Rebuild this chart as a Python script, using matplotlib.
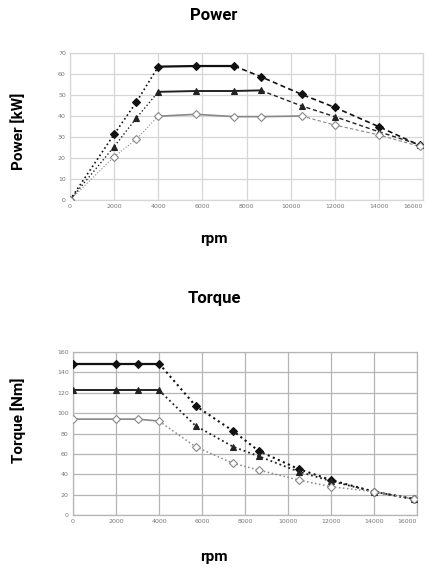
import matplotlib
matplotlib.use("Agg")
import matplotlib.pyplot as plt

# rpm sample points and curves
rpm = [0, 2000, 3000, 4000, 5700, 7450, 8650, 10500, 12000, 14000, 15850]
power_a = [0, 31.3, 46.5, 63.5, 63.8, 63.8, 58.7, 50.3, 44.1, 34.9, 26.0]
power_b = [0, 25.4, 38.9, 51.5, 51.9, 51.9, 52.2, 44.8, 39.7, 32.5, 26.3]
power_c = [0, 20.6, 28.9, 39.9, 40.8, 39.7, 39.7, 40.0, 35.7, 31.0, 25.5]
torque_a = [148.7, 148.7, 148.7, 148.7, 107.2, 82.4, 62.7, 45.1, 34.3, 22.9, 15.7]
torque_b = [122.5, 122.5, 122.5, 122.5, 87.6, 67.0, 57.6, 42.5, 33.3, 22.9, 15.7]
torque_c = [94.1, 94.1, 94.1, 92.2, 67.0, 50.7, 44.1, 34.3, 27.8, 22.9, 15.7]

x_ticks = list(range(0, 16001, 2000))
p_ticks = list(range(0, 71, 10))
t_ticks = list(range(0, 161, 20))

LABEL_FONT = ['Liberation Sans Narrow', 'Roboto', 'DejaVu Sans']
W, H = 429, 571
fig = plt.figure(figsize=(W / 100, H / 100), dpi=100)


def px_axes(l, t, r, b):
    return fig.add_axes([l / W, 1 - b / H, (r - l) / W, (b - t) / H])


def style(ax, yticks, ymax, grid_col):
    ax.set_xlim(0, 16000); ax.set_ylim(0, ymax)
    ax.set_xticks(x_ticks); ax.set_yticks(yticks)
    ax.tick_params(length=0, labelsize=4.5, labelcolor='#777777', pad=3)
    ax.grid(True, color=grid_col, linewidth=0.9, zorder=0)
    for s in ax.spines.values():
        s.set_color(grid_col); s.set_linewidth(0.9)
    # last rpm label sits at the figure edge: keep it inside
    ax.get_xticklabels()[-1].set_horizontalalignment('right')


def draw(ax, y, k_flat, k_end, col, mk, mfc, lw):
    # ramp (dotted), flat section (solid), decline (dashed)
    ax.plot(rpm[:k_flat + 1], y[:k_flat + 1], ls=':', color=col, lw=lw, zorder=3)
    ax.plot(rpm[k_flat:k_end + 1], y[k_flat:k_end + 1], ls='-', color=col, lw=lw + 0.4, zorder=3)
    ax.plot(rpm[k_end:], y[k_end:], ls=(0, (3, 2)), color=col, lw=lw, zorder=3)
    ax.plot(rpm, y, ls='none', marker=mk, ms=4, mfc=mfc, mec=col, mew=0.8, zorder=4)


# Power
axP = px_axes(70, 53, 423, 200)
style(axP, p_ticks, 70, '#d6d6d6')
draw(axP, power_a, 3, 5, '#111111', 'D', '#111111', 1.2)
draw(axP, power_b, 3, 6, '#222222', '^', '#222222', 1.0)
draw(axP, power_c, 3, 7, '#888888', 'D', 'white', 0.8)

# Torque
axT = px_axes(73, 352, 417, 515)
style(axT, t_ticks, 160, '#b5b5b5')
for y, col, mk, mfc, lw in [(torque_a, '#111111', 'D', '#111111', 1.2),
                            (torque_b, '#222222', '^', '#222222', 1.0),
                            (torque_c, '#888888', 'D', 'white', 0.8)]:
    axT.plot(rpm[:4], y[:4], ls='-', color=col, lw=lw + 0.4, zorder=3)
    axT.plot(rpm[3:], y[3:], ls=':', color=col, lw=lw + 0.3, zorder=3)
    axT.plot(rpm, y, ls='none', marker=mk, ms=4, mfc=mfc, mec=col, mew=0.8, zorder=4)

txt = dict(family=LABEL_FONT, fontweight='bold', color='black', ha='center', va='center')
fig.text(214 / W, 1 - 16 / H, 'Power', fontsize=12, **txt)
fig.text(214 / W, 1 - 239 / H, 'rpm', fontsize=11, **txt)
fig.text(19 / W, 1 - 131 / H, 'Power [kW]', fontsize=11, rotation=90, **txt)
fig.text(214 / W, 1 - 298 / H, 'Torque', fontsize=12, **txt)
fig.text(214 / W, 1 - 557 / H, 'rpm', fontsize=11, **txt)
fig.text(18 / W, 1 - 420 / H, 'Torque [Nm]', fontsize=11, rotation=90, **txt)

fig.savefig('out.png', dpi=100)
